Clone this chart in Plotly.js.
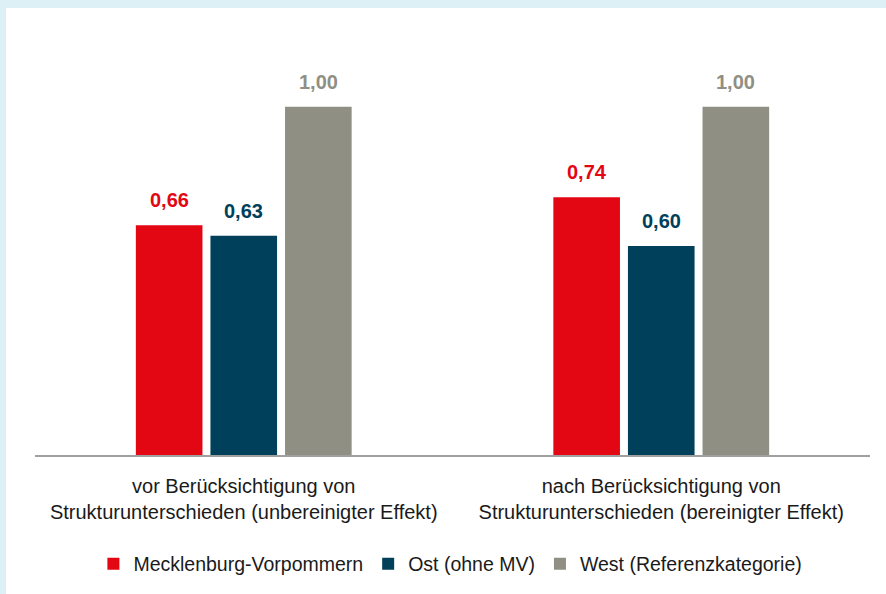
<!DOCTYPE html>
<html>
<head>
<meta charset="utf-8">
<script src="https://cdn.plot.ly/plotly-3.0.1.min.js"></script>
<style>
  html, body { margin: 0; padding: 0; background: #dcf0f5; width: 886px; height: 594px; overflow: hidden; }
  #chart { position: absolute; left: 6px; top: 8px; width: 880px; height: 586px; background: #fff; }
</style>
</head>
<body>
<div id="chart"></div>
<script>
const categories = [
  "vor Berücksichtigung von<br>Strukturunterschieden (unbereinigter Effekt)",
  "nach Berücksichtigung von<br>Strukturunterschieden (bereinigter Effekt)"
];
const seriesNames = ["Mecklenburg-Vorpommern", "Ost (ohne MV)", "West (Referenzkategorie)"];
const mvValues = [0.66, 0.74];
const ostValues = [0.63, 0.60];
const westValues = [1.00, 1.00];
const seriesColors = ["#e30613", "#00405a", "#908f84"];

const FONT = "'Liberation Sans', Arial, sans-serif";
const allValues = [mvValues, ostValues, westValues];

const W = 880, H = 586;
const margin = {l: 29, r: 16, t: 64, b: 139};
const bargap = 0.464, bargroupgap = 0.107;

const traces = allValues.map((vals, i) => ({
  type: 'bar',
  name: seriesNames[i],
  x: categories,
  y: vals,
  marker: {color: seriesColors[i]},
  hoverinfo: 'none'
}));

const plotW = W - margin.l - margin.r;
const slotPx = (plotW / categories.length) * (1 - bargap) / allValues.length;
const fmt = v => v.toFixed(2).replace('.', ',');

const annotations = [];
allValues.forEach((vals, i) => {
  vals.forEach((v, j) => {
    annotations.push({
      x: categories[j], y: v, xref: 'x', yref: 'y',
      text: fmt(v), showarrow: false,
      xshift: (i - 1) * slotPx,
      yanchor: 'middle', yshift: 25,
      font: {family: FONT, size: 20, color: seriesColors[i], weight: 'bold'}
    });
  });
});

const layout = {
  width: W, height: H,
  margin: margin,
  paper_bgcolor: '#ffffff',
  plot_bgcolor: '#ffffff',
  barmode: 'group',
  bargap: bargap,
  bargroupgap: bargroupgap,
  showlegend: true,
  legend: {
    orientation: 'h',
    xref: 'container', yref: 'container',
    x: 0.505, xanchor: 'center',
    y: 0.0512, yanchor: 'middle',
    font: {family: FONT, size: 19.5, color: '#1a1a1a'},
    traceorder: 'normal'
  },
  xaxis: {
    type: 'category',
    showline: true, linecolor: '#a0a0a0', linewidth: 2,
    showgrid: false, zeroline: false,
    tickangle: 0,
    ticks: 'outside', ticklen: 12, tickcolor: 'rgba(0,0,0,0)',
    tickfont: {family: FONT, size: 20, color: '#1a1a1a'},
    fixedrange: true
  },
  yaxis: {
    range: [0, 1.1], visible: false, fixedrange: true
  },
  annotations: annotations,
  font: {family: FONT}
};

Plotly.newPlot('chart', traces, layout, {displayModeBar: false, staticPlot: true});
</script>
</body>
</html>
